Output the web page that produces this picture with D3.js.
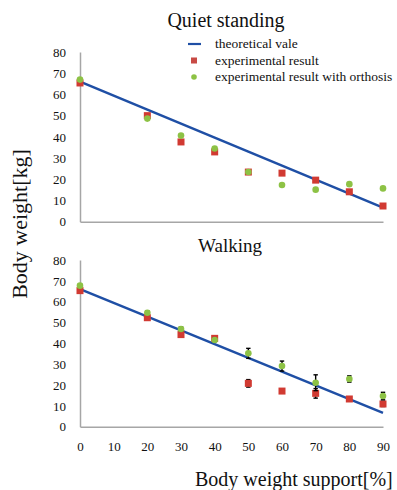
<!DOCTYPE html>
<html><head><meta charset="utf-8">
<script src="https://cdn.jsdelivr.net/npm/d3@7"></script>
<style>html,body{margin:0;padding:0;background:#fff;}svg{display:block;}</style>
</head><body>
<svg id="c" width="397" height="490"></svg>
<script>
const bws = [0, 20, 30, 40, 50, 60, 70, 80, 90];
const xTicks = [0, 10, 20, 30, 40, 50, 60, 70, 80, 90];
const yTicks = [0, 10, 20, 30, 40, 50, 60, 70, 80];
const theoretical = [66, 52.8, 46.2, 39.6, 33, 26.4, 19.8, 13.2, 6.6];
const standExp = [65.4, 50.0, 37.6, 32.9, 23.4, 22.9, 19.6, 14.1, 7.4];
const standOrth = [67.0, 48.6, 40.6, 34.5, 23.4, 17.3, 15.1, 17.7, 15.7];
const walkExp = [65.3, 52.3, 44.2, 42.4, 20.8, 17.1, 16.0, 13.3, 10.9];
const walkOrth = [67.7, 54.7, 46.9, 41.6, 35.2, 29.1, 21.1, 22.9, 14.7];
const walkExpErr = [0.5, 0.8, 0.8, 0.8, 1.8, 1.0, 2.3, 1.0, 1.2];
const walkOrthErr = [0.5, 0.8, 1.0, 0.8, 2.4, 2.4, 3.8, 1.5, 1.8];
const legendLabels = ["theoretical vale", "experimental result", "experimental result with orthosis"];

const BLUE = "#1f4fa5", RED = "#d13a32", GREEN = "#8dc245", AXIS = "#a6a6a6";
const FONT = "Liberation Serif, Times New Roman, serif";
const svg = d3.select("#c");
const x = d3.scaleLinear().domain([0, 90]).range([80, 383]);

function panel(y0, y80, title, titleX, titleY, titleSize, exp, orth, expErr, orthErr, showX) {
  const y = d3.scaleLinear().domain([0, 80]).range([y0, y80]);
  const g = svg.append("g");
  const ya = g.append("g").attr("transform", "translate(80,0)")
    .call(d3.axisLeft(y).tickValues(yTicks).tickSize(0).tickPadding(14).tickFormat(d3.format("d")));
  ya.attr("font-family", FONT).attr("font-size", 13);
  ya.select(".domain").attr("stroke", AXIS).attr("stroke-width", 1.5);
  ya.selectAll("text").attr("fill", "#111");
  const xa = g.append("g").attr("transform", `translate(0,${y0})`)
    .call(d3.axisBottom(x).tickValues(xTicks).tickSize(0).tickPadding(15).tickFormat(d3.format("d")));
  xa.attr("font-family", FONT).attr("font-size", 13);
  xa.select(".domain").attr("stroke", AXIS).attr("stroke-width", 1.5);
  xa.selectAll("text").attr("fill", "#111");
  if (!showX) xa.selectAll(".tick").remove();
  g.append("text").attr("x", titleX).attr("y", titleY).attr("text-anchor", "middle")
    .attr("font-family", FONT).attr("font-size", titleSize).attr("fill", "#111").text(title);
  g.append("path").datum(bws.map((b, i) => [b, theoretical[i]]))
    .attr("fill", "none").attr("stroke", BLUE).attr("stroke-width", 2.5)
    .attr("d", d3.line().x(d => x(d[0])).y(d => y(d[1])));
  function errs(vals, err) {
    if (!err) return;
    const eg = g.append("g").attr("stroke", "#000").attr("stroke-width", 1.4);
    bws.forEach((b, i) => {
      const cx = x(b), t = y(vals[i] + err[i]), bo = y(vals[i] - err[i]);
      eg.append("line").attr("x1", cx).attr("x2", cx).attr("y1", t).attr("y2", bo);
      eg.append("line").attr("x1", cx - 2.2).attr("x2", cx + 2.2).attr("y1", t).attr("y2", t);
      eg.append("line").attr("x1", cx - 2.2).attr("x2", cx + 2.2).attr("y1", bo).attr("y2", bo);
    });
  }
  errs(exp, expErr);
  g.append("g").selectAll("rect").data(exp).join("rect")
    .attr("x", (d, i) => x(bws[i]) - 3.5).attr("y", d => y(d) - 3.5)
    .attr("width", 7).attr("height", 7).attr("fill", RED);
  errs(orth, orthErr);
  g.append("g").selectAll("circle").data(orth).join("circle")
    .attr("cx", (d, i) => x(bws[i])).attr("cy", d => y(d)).attr("r", 3.3).attr("fill", GREEN);
}

panel(221.7, 52, "Quiet standing", 226, 27, 20, standExp, standOrth, null, null, false);
panel(426.7, 260, "Walking", 230, 252, 19, walkExp, walkOrth, walkExpErr, walkOrthErr, true);

const lg = svg.append("g");
const rows = [44, 60.5, 77];
lg.append("line").attr("x1", 188).attr("x2", 201).attr("y1", rows[0]).attr("y2", rows[0])
  .attr("stroke", BLUE).attr("stroke-width", 2.2);
lg.append("rect").attr("x", 191).attr("y", rows[1] - 3).attr("width", 6).attr("height", 6).attr("fill", "#c84a45");
lg.append("circle").attr("cx", 194).attr("cy", rows[2]).attr("r", 2.8).attr("fill", GREEN);
legendLabels.forEach((t, i) => {
  lg.append("text").attr("x", 215).attr("y", rows[i]).attr("dy", "0.32em")
    .attr("font-family", FONT).attr("font-size", 13.5).attr("fill", "#111").text(t);
});

svg.append("text").attr("transform", "translate(27,224) rotate(-90)").attr("text-anchor", "middle")
  .attr("font-family", FONT).attr("font-size", 22).attr("fill", "#111").text("Body weight[kg]");
svg.append("text").attr("x", 195).attr("y", 486)
  .attr("font-family", FONT).attr("font-size", 20).attr("fill", "#111").text("Body weight support[%]");
</script>
</body></html>
